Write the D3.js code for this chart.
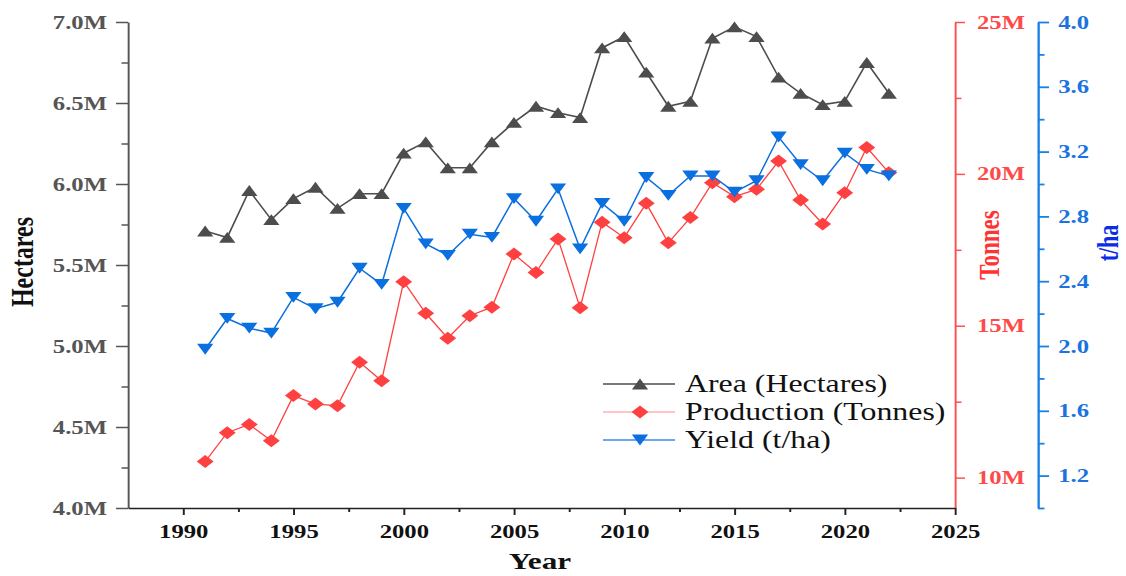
<!DOCTYPE html>
<html><head><meta charset="utf-8">
<script src="https://cdn.jsdelivr.net/npm/d3@7"></script>
<style>html,body{margin:0;padding:0;background:#fff;} svg{display:block;}</style>
</head><body><svg id="c" width="1126" height="576"></svg>
<script>
// ---- data ----
const years = [1991,1992,1993,1994,1995,1996,1997,1998,1999,2000,2001,2002,2003,2004,2005,2006,2007,2008,2009,2010,2011,2012,2013,2014,2015,2016,2017,2018,2019,2020,2021,2022];
const areaMha = [5.71,5.67,5.96,5.78,5.91,5.98,5.85,5.94,5.94,6.19,6.26,6.10,6.10,6.26,6.38,6.48,6.44,6.41,6.84,6.91,6.69,6.48,6.51,6.90,6.97,6.91,6.66,6.56,6.49,6.51,6.75,6.56];
const productionMt = [10.53,11.48,11.75,11.21,12.70,12.42,12.37,13.80,13.19,16.45,15.41,14.59,15.33,15.61,17.36,16.75,17.86,15.59,18.41,17.90,19.03,17.73,18.56,19.71,19.25,19.49,20.42,19.14,18.35,19.38,20.87,20.04];
const yieldTha = [1.98,2.17,2.11,2.08,2.30,2.23,2.27,2.48,2.38,2.85,2.63,2.56,2.69,2.67,2.91,2.77,2.97,2.60,2.88,2.77,3.04,2.93,3.05,3.05,2.95,3.02,3.29,3.12,3.02,3.19,3.09,3.05];

const xTicks = [1990,1995,2000,2005,2010,2015,2020,2025];
const xTickLabels = ["1990","1995","2000","2005","2010","2015","2020","2025"];
const xMinorTicks = [1992.5,1997.5,2002.5,2007.5,2012.5,2017.5,2022.5];
const areaTicks = [4.0,4.5,5.0,5.5,6.0,6.5,7.0];
const areaTickLabels = ["4.0M","4.5M","5.0M","5.5M","6.0M","6.5M","7.0M"];
const areaMinorTicks = [4.25,4.75,5.25,5.75,6.25,6.75];
const prodTicks = [10,15,20,25];
const prodTickLabels = ["10M","15M","20M","25M"];
const prodMinorTicks = [12.5,17.5,22.5];
const yieldTicks = [1.2,1.6,2.0,2.4,2.8,3.2,3.6,4.0];
const yieldTickLabels = ["1.2","1.6","2.0","2.4","2.8","3.2","3.6","4.0"];
const yieldMinorTicks = [1.0,1.4,1.8,2.2,2.6,3.0,3.4,3.8];
const seriesNames = ["Area (Hectares)","Production (Tonnes)","Yield (t/ha)"];
const axisTitles = ["Year","Hectares","Tonnes","t/ha"];

// ---- layout ----
const FONT = "'Liberation Serif','Times New Roman',serif";
const S = 1.3;             // horizontal stretch of the original picture
const X = v => v / S;      // screen x -> local x
const C_AREA = "#4d4d4d", C_PROD = "#ff4040", C_YIELD = "#0a6fdf";

const svg = d3.select("#c");
svg.append("rect").attr("width",1126).attr("height",576).attr("fill","#fff");
const g = svg.append("g").attr("transform", `scale(${S},1)`);

const x = d3.scaleLinear().domain([1987.5, 2025]).range([X(128), X(955)]);
const yA = d3.scaleLinear().domain([4, 7]).range([508, 22]);
const yP = d3.scaleLinear().domain([9, 25]).range([508, 22]);
const yY = d3.scaleLinear().domain([1, 4]).range([508, 22]);

function styleAxis(sel, color, width, labelColor, fontSize) {
  sel.attr("font-family", FONT).attr("font-size", fontSize).attr("font-weight", "bold");
  sel.select(".domain").attr("stroke", color).attr("stroke-width", width);
  sel.selectAll(".tick line").attr("stroke", color).attr("stroke-width", width);
  sel.selectAll(".tick text").attr("fill", labelColor);
}
function minor(sel, color, width) {
  sel.select(".domain").remove();
  sel.selectAll(".tick line").attr("stroke", color).attr("stroke-width", width);
  sel.selectAll(".tick text").remove();
}

// left axis (Area)
const gL = g.append("g").attr("transform", `translate(${X(128)},0)`)
  .call(d3.axisLeft(yA).tickValues(areaTicks).tickFormat((d,i)=>areaTickLabels[i]).tickSize(9.2).tickSizeOuter(0).tickPadding(7));
styleAxis(gL, "#555", 1.5, "#555", 19);
g.append("g").attr("transform", `translate(${X(128)},0)`)
  .call(d3.axisLeft(yA).tickValues(areaMinorTicks).tickFormat("").tickSize(5).tickSizeOuter(0))
  .call(s => minor(s, "#555", 1.5));

// red axis (Production)
const gR = g.append("g").attr("transform", `translate(${X(955)},0)`)
  .call(d3.axisRight(yP).tickValues(prodTicks).tickFormat((d,i)=>prodTickLabels[i]).tickSize(7.7).tickSizeOuter(0).tickPadding(9.2));
styleAxis(gR, "#ff5050", 1.5, "#ff4a4a", 19);
g.append("g").attr("transform", `translate(${X(955)},0)`)
  .call(d3.axisRight(yP).tickValues(prodMinorTicks).tickFormat("").tickSize(5).tickSizeOuter(0))
  .call(s => minor(s, "#ff5050", 1.5));

// blue axis (Yield)
const gB = g.append("g").attr("transform", `translate(${X(1038)},0)`)
  .call(d3.axisRight(yY).tickValues(yieldTicks).tickFormat((d,i)=>yieldTickLabels[i]).tickSize(8.5).tickSizeOuter(0).tickPadding(7));
styleAxis(gB, "#1a7fe6", 1.8, "#1a73e0", 19);
g.append("g").attr("transform", `translate(${X(1038)},0)`)
  .call(d3.axisRight(yY).tickValues(yieldMinorTicks).tickFormat("").tickSize(5).tickSizeOuter(0))
  .call(s => minor(s, "#1a7fe6", 1.8));

// bottom axis
const gX = g.append("g").attr("transform", `translate(0,508)`)
  .call(d3.axisBottom(x).tickValues(xTicks).tickFormat((d,i)=>xTickLabels[i]).tickSize(7).tickSizeOuter(0).tickPadding(9.5));
styleAxis(gX, "#222", 1.5, "#111", 19);
g.append("g").attr("transform", `translate(0,508)`)
  .call(d3.axisBottom(x).tickValues(xMinorTicks).tickFormat("").tickSize(4).tickSizeOuter(0))
  .call(s => minor(s, "#222", 1.5));

// axis titles
g.append("text").attr("x", X(540)).attr("y", 569).attr("text-anchor","middle")
  .attr("font-family", FONT).attr("font-weight","bold").attr("font-size",24).attr("fill","#111").text(axisTitles[0]);
g.append("text").attr("transform", `translate(${X(33)},262) rotate(-90)`).attr("text-anchor","middle")
  .attr("font-family", FONT).attr("font-weight","bold").attr("font-size",24).attr("fill","#111").text(axisTitles[1]);
g.append("text").attr("transform", `translate(${X(999)},245) rotate(-90)`).attr("text-anchor","middle")
  .attr("font-family", FONT).attr("font-weight","bold").attr("font-size",23).attr("fill","#ff3333").text(axisTitles[2]);
g.append("text").attr("transform", `translate(${X(1118)},243) rotate(-90)`).attr("text-anchor","middle")
  .attr("font-family", FONT).attr("font-weight","bold").attr("font-size",22).attr("fill","#0a2ee6").text(axisTitles[3]);

// markers
const triUp = "M0,-5.4L6.25,5.4L-6.25,5.4Z";
const triDown = "M0,5.4L6.25,-5.4L-6.25,-5.4Z";
const diamond = "M0,-6.5L6.5,0L0,6.5L-6.5,0Z";

const series = [
  {name: seriesNames[0], values: areaMha, y: yA, color: C_AREA, lw: 1.6, marker: triUp},
  {name: seriesNames[1], values: productionMt, y: yP, color: C_PROD, lw: 1.3, marker: diamond},
  {name: seriesNames[2], values: yieldTha, y: yY, color: C_YIELD, lw: 1.5, marker: triDown}
];

series.forEach(s => {
  const pts = years.map((yr,i) => [yr, s.values[i]]);
  g.append("path").datum(pts)
    .attr("d", d3.line().x(d=>x(d[0])).y(d=>s.y(d[1])))
    .attr("fill","none").attr("stroke", s.color).attr("stroke-width", s.lw)
    .attr("vector-effect","non-scaling-stroke");
  g.append("g").selectAll("path").data(pts).join("path")
    .attr("transform", d => `translate(${x(d[0])},${s.y(d[1])})`)
    .attr("d", s.marker).attr("fill", s.color);
});

// legend
const legY = [384, 412, 440];
const legLineColors = [C_AREA, "#ff8a8a", "#3a8ae8"];
series.forEach((s,i) => {
  const lg = g.append("g");
  lg.append("line").attr("x1", X(603)).attr("x2", X(675)).attr("y1", legY[i]).attr("y2", legY[i])
    .attr("stroke", legLineColors[i]).attr("stroke-width", i===1 ? 1 : 1.4).attr("vector-effect","non-scaling-stroke");
  lg.append("path").attr("transform", `translate(${X(640)},${legY[i]})`).attr("d", s.marker).attr("fill", s.color);
  lg.append("text").attr("x", X(685)).attr("y", legY[i] + 8)
    .attr("font-family", FONT).attr("font-size", 24.5).attr("fill", "#111").text(s.name);
});
</script></body></html>
